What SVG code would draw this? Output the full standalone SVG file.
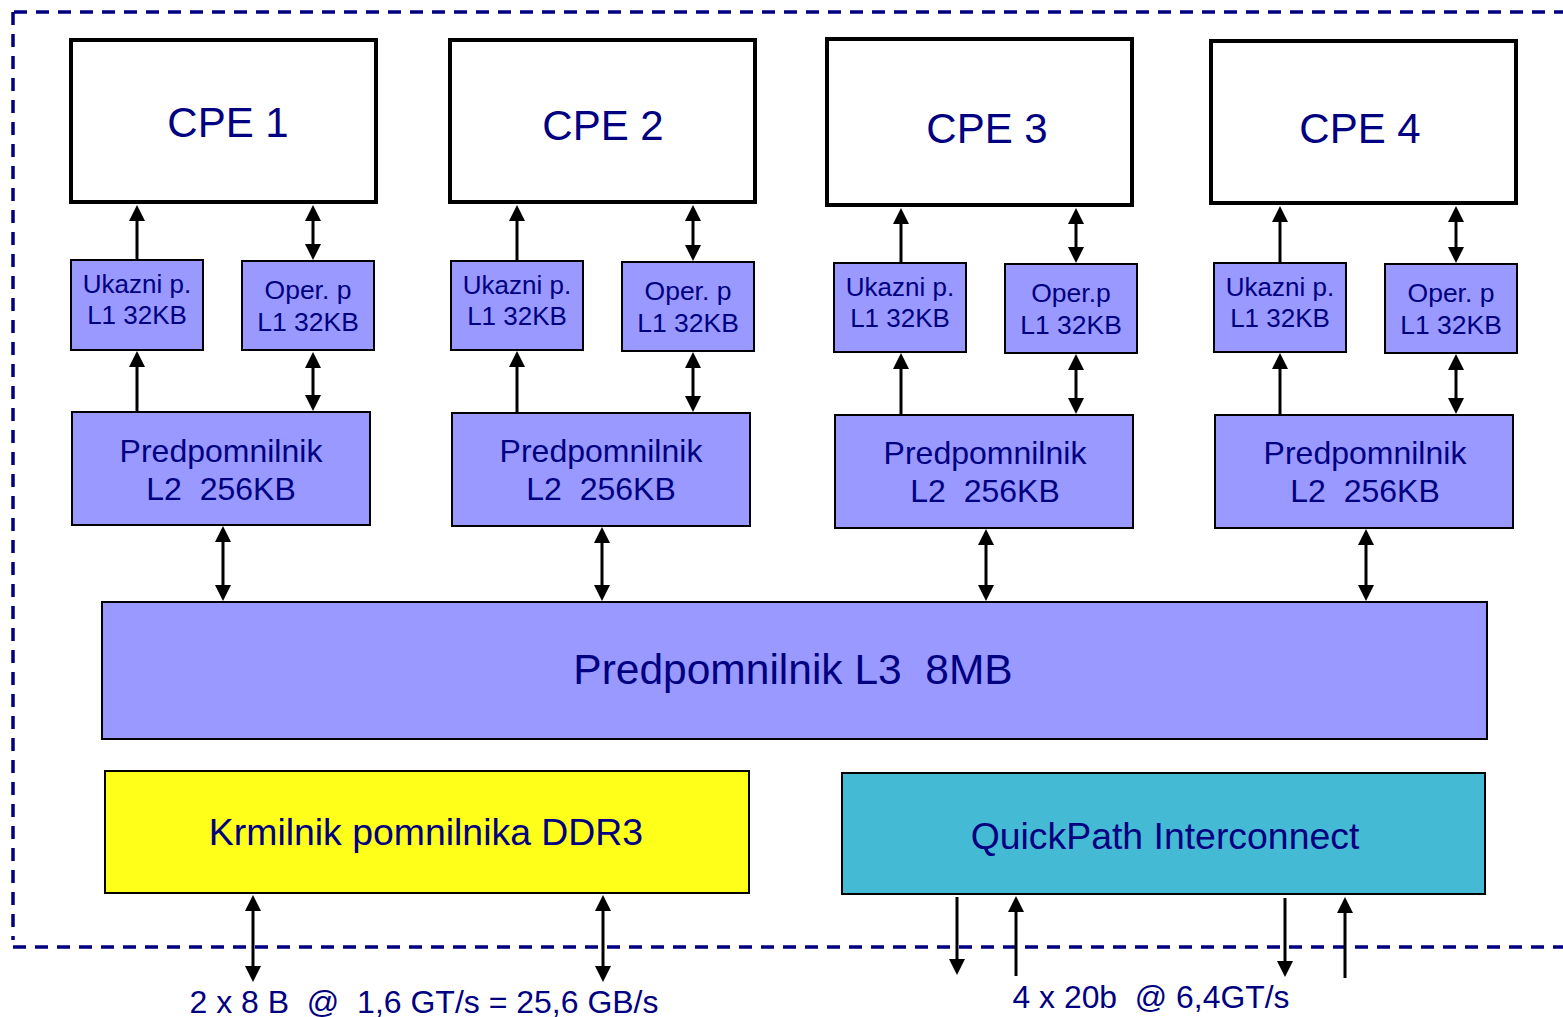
<svg xmlns="http://www.w3.org/2000/svg" width="1563" height="1017" viewBox="0 0 1563 1017">
<style>
.t{font-family:"Liberation Sans",Arial,sans-serif;fill:#000080;text-anchor:middle;white-space:pre}
.cpe{fill:#fff;stroke:#000;stroke-width:4}
.l1{fill:#9999FF;stroke:#000;stroke-width:2}
.l2{fill:#9999FF;stroke:#000;stroke-width:2}
.a{stroke:#000;stroke-width:3;fill:none}
.b{fill:none;stroke:#000080;stroke-width:3.5;stroke-dasharray:13 9}
</style>
<defs>
<marker id="ah" viewBox="0 0 16 16" markerWidth="16" markerHeight="16" markerUnits="userSpaceOnUse" refX="2" refY="8" orient="auto-start-reverse">
<path d="M0,0 L16,8 L0,16 z" fill="#000"/>
</marker>
</defs>
<rect width="1563" height="1017" fill="#fff"/>
<g id="border">
<path class="b" d="M14,12 H1563"/>
<path class="b" d="M13,12 V940"/>
<path class="b" d="M13,947 H1563"/>
</g>
<g id="cpe1"><rect class="cpe" x="71" y="40" width="305" height="162"/><text class="t" x="228" y="137" font-size="42">CPE 1</text></g>
<g id="cpe2"><rect class="cpe" x="450" y="40" width="305" height="162"/><text class="t" x="603" y="140" font-size="42">CPE 2</text></g>
<g id="cpe3"><rect class="cpe" x="827" y="39" width="305" height="166"/><text class="t" x="987" y="143" font-size="42">CPE 3</text></g>
<g id="cpe4"><rect class="cpe" x="1211" y="41" width="305" height="162"/><text class="t" x="1360" y="143" font-size="42">CPE 4</text></g>

<g id="l1i1"><rect class="l1" x="71" y="260" width="132" height="90"/><text class="t" x="137" y="293" font-size="26">Ukazni p.</text><text class="t" x="137" y="324" font-size="26">L1 32KB</text></g>
<g id="l1d1"><rect class="l1" x="242" y="261" width="132" height="89"/><text class="t" x="308" y="299" font-size="26.5">Oper. p</text><text class="t" x="308" y="331" font-size="26.5">L1 32KB</text></g>
<g id="l1i2"><rect class="l1" x="451" y="261" width="132" height="89"/><text class="t" x="517" y="294" font-size="26">Ukazni p.</text><text class="t" x="517" y="325" font-size="26">L1 32KB</text></g>
<g id="l1d2"><rect class="l1" x="622" y="262" width="132" height="89"/><text class="t" x="688" y="300" font-size="26.5">Oper. p</text><text class="t" x="688" y="332" font-size="26.5">L1 32KB</text></g>
<g id="l1i3"><rect class="l1" x="834" y="263" width="132" height="89"/><text class="t" x="900" y="296" font-size="26">Ukazni p.</text><text class="t" x="900" y="327" font-size="26">L1 32KB</text></g>
<g id="l1d3"><rect class="l1" x="1005" y="264" width="132" height="89"/><text class="t" x="1071" y="302" font-size="26.5">Oper.p</text><text class="t" x="1071" y="334" font-size="26.5">L1 32KB</text></g>
<g id="l1i4"><rect class="l1" x="1214" y="263" width="132" height="89"/><text class="t" x="1280" y="296" font-size="26">Ukazni p.</text><text class="t" x="1280" y="327" font-size="26">L1 32KB</text></g>
<g id="l1d4"><rect class="l1" x="1385" y="264" width="132" height="89"/><text class="t" x="1451" y="302" font-size="26.5">Oper. p</text><text class="t" x="1451" y="334" font-size="26.5">L1 32KB</text></g>

<g id="l2_1"><rect class="l2" x="72" y="412" width="298" height="113"/><text class="t" x="221" y="462" font-size="32">Predpomnilnik</text><text class="t" x="221" y="500" font-size="32">L2  256KB</text></g>
<g id="l2_2"><rect class="l2" x="452" y="413" width="298" height="113"/><text class="t" x="601" y="462" font-size="32">Predpomnilnik</text><text class="t" x="601" y="500" font-size="32">L2  256KB</text></g>
<g id="l2_3"><rect class="l2" x="835" y="415" width="298" height="113"/><text class="t" x="985" y="464" font-size="32">Predpomnilnik</text><text class="t" x="985" y="502" font-size="32">L2  256KB</text></g>
<g id="l2_4"><rect class="l2" x="1215" y="415" width="298" height="113"/><text class="t" x="1365" y="464" font-size="32">Predpomnilnik</text><text class="t" x="1365" y="502" font-size="32">L2  256KB</text></g>

<g id="l3"><rect class="l2" x="102" y="602" width="1385" height="137"/><text class="t" x="793" y="684" font-size="42.5">Predpomnilnik L3  8MB</text></g>
<g id="ddr"><rect x="105" y="771" width="644" height="122" fill="#FFFF1A" stroke="#000" stroke-width="2"/><text class="t" x="426" y="845" font-size="37.4">Krmilnik pomnilnika DDR3</text></g>
<g id="qpi"><rect x="842" y="773" width="643" height="121" fill="#45BAD5" stroke="#000" stroke-width="2"/><text class="t" x="1165" y="849" font-size="37.4">QuickPath Interconnect</text></g>

<g id="connectors">
<line class="a" x1="137" y1="260" x2="137" y2="219" marker-end="url(#ah)"/>
<line class="a" x1="313" y1="219" x2="313" y2="246" marker-start="url(#ah)" marker-end="url(#ah)"/>
<line class="a" x1="137" y1="412" x2="137" y2="365" marker-end="url(#ah)"/>
<line class="a" x1="313" y1="366" x2="313" y2="397" marker-start="url(#ah)" marker-end="url(#ah)"/>
<line class="a" x1="223" y1="540" x2="223" y2="587" marker-start="url(#ah)" marker-end="url(#ah)"/>

<line class="a" x1="517" y1="261" x2="517" y2="219" marker-end="url(#ah)"/>
<line class="a" x1="693" y1="219" x2="693" y2="247" marker-start="url(#ah)" marker-end="url(#ah)"/>
<line class="a" x1="517" y1="413" x2="517" y2="365" marker-end="url(#ah)"/>
<line class="a" x1="693" y1="366" x2="693" y2="398" marker-start="url(#ah)" marker-end="url(#ah)"/>
<line class="a" x1="602" y1="541" x2="602" y2="587" marker-start="url(#ah)" marker-end="url(#ah)"/>

<line class="a" x1="901" y1="263" x2="901" y2="222" marker-end="url(#ah)"/>
<line class="a" x1="1076" y1="222" x2="1076" y2="249" marker-start="url(#ah)" marker-end="url(#ah)"/>
<line class="a" x1="901" y1="415" x2="901" y2="367" marker-end="url(#ah)"/>
<line class="a" x1="1076" y1="368" x2="1076" y2="400" marker-start="url(#ah)" marker-end="url(#ah)"/>
<line class="a" x1="986" y1="543" x2="986" y2="587" marker-start="url(#ah)" marker-end="url(#ah)"/>

<line class="a" x1="1280" y1="263" x2="1280" y2="220" marker-end="url(#ah)"/>
<line class="a" x1="1456" y1="220" x2="1456" y2="249" marker-start="url(#ah)" marker-end="url(#ah)"/>
<line class="a" x1="1280" y1="415" x2="1280" y2="367" marker-end="url(#ah)"/>
<line class="a" x1="1456" y1="368" x2="1456" y2="400" marker-start="url(#ah)" marker-end="url(#ah)"/>
<line class="a" x1="1366" y1="543" x2="1366" y2="587" marker-start="url(#ah)" marker-end="url(#ah)"/>

<line class="a" x1="253" y1="909" x2="253" y2="968" marker-start="url(#ah)" marker-end="url(#ah)"/>
<line class="a" x1="603" y1="909" x2="603" y2="968" marker-start="url(#ah)" marker-end="url(#ah)"/>

<line class="a" x1="957" y1="897" x2="957" y2="961" marker-end="url(#ah)"/>
<line class="a" x1="1016" y1="976" x2="1016" y2="910" marker-end="url(#ah)"/>
<line class="a" x1="1285" y1="898" x2="1285" y2="963" marker-end="url(#ah)"/>
<line class="a" x1="1345" y1="978" x2="1345" y2="911" marker-end="url(#ah)"/>
</g>
<g id="labels">
<text class="t" x="424" y="1013" font-size="31" textLength="469" lengthAdjust="spacingAndGlyphs">2 x 8 B  @  1,6 GT/s = 25,6 GB/s</text>
<text class="t" x="1151" y="1008" font-size="31" textLength="277" lengthAdjust="spacingAndGlyphs">4 x 20b  @ 6,4GT/s</text>
</g>
</svg>
